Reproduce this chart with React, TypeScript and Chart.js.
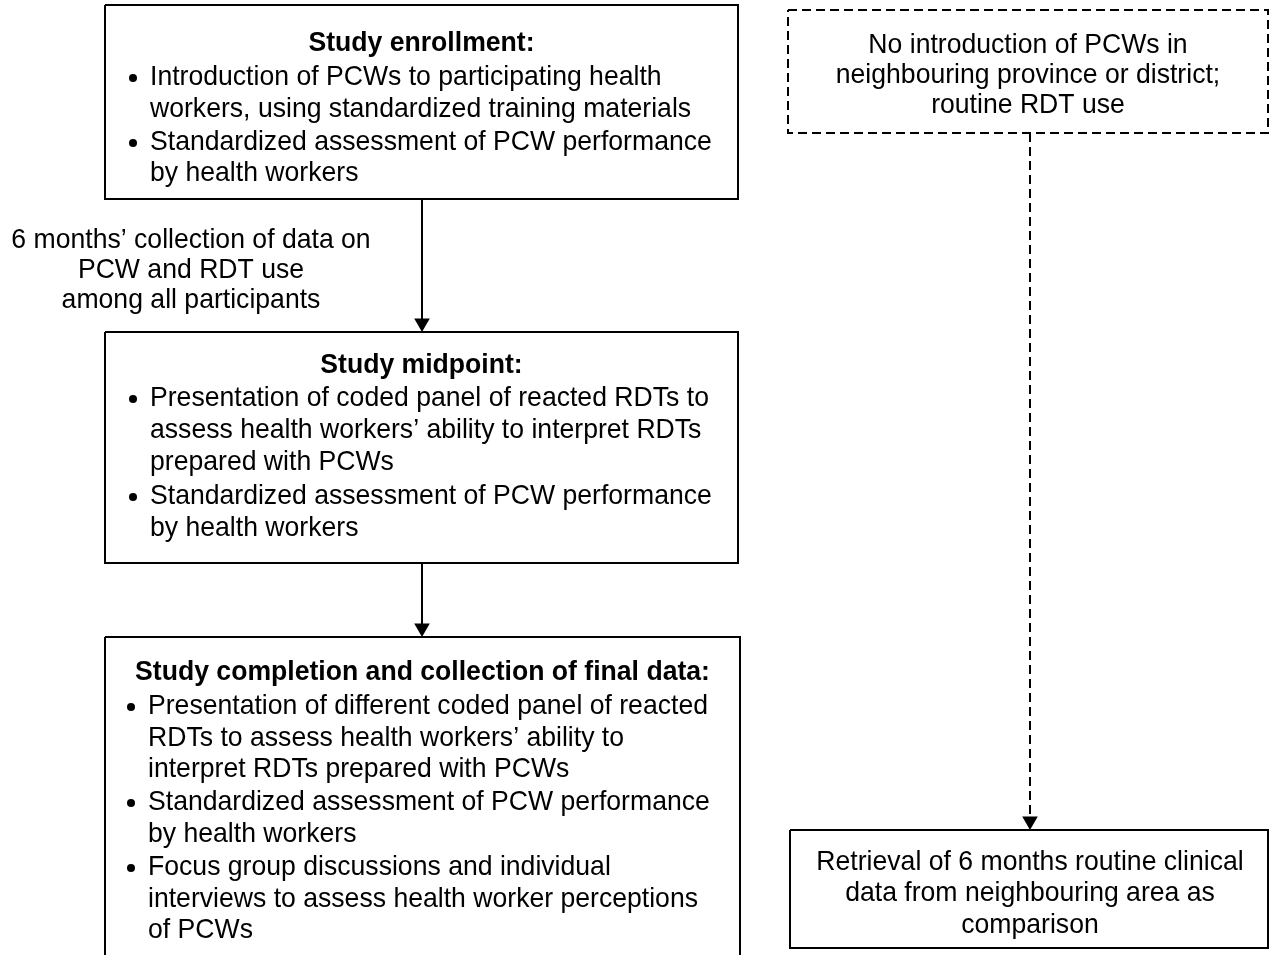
import React, { useEffect, useRef } from "react";
import { Chart, registerables } from "chart.js";

Chart.register(...registerables);

// ---- Text content ----
const enrollmentTitle = "Study enrollment:";
const enrollmentBullets = [
  ["Introduction of PCWs to participating health", "workers, using standardized training materials"],
  ["Standardized assessment of PCW performance", "by health workers"],
];
const midpointTitle = "Study midpoint:";
const midpointBullets = [
  ["Presentation of coded panel of reacted RDTs to", "assess health workers\u2019 ability to interpret RDTs", "prepared with PCWs"],
  ["Standardized assessment of PCW performance", "by health workers"],
];
const completionTitle = "Study completion and collection of final data:";
const completionBullets = [
  ["Presentation of different coded panel of reacted", "RDTs to assess health workers\u2019 ability to", "interpret RDTs prepared with PCWs"],
  ["Standardized assessment of PCW performance", "by health workers"],
  ["Focus group discussions and individual", "interviews to assess health worker perceptions", "of PCWs"],
];
const sideLabel = ["6 months\u2019 collection of data on", "PCW and RDT use", "among all participants"];
const controlText = ["No introduction of PCWs in", "neighbouring province or district;", "routine RDT use"];
const retrievalText = ["Retrieval of 6 months routine clinical", "data from neighbouring area as", "comparison"];

// ---- Layout (diagram coordinates, 1 unit = 1 px) ----
const boxEnroll = { x0: 105, y0: 5, x1: 738, y1: 199 };
const boxMid = { x0: 105, y0: 332, x1: 738, y1: 563 };
const boxComp = { x0: 105, y0: 637, x1: 740, y1: 975 };
const boxControl = { x0: 788, y0: 10, x1: 1268, y1: 133 };
const boxRetrieval = { x0: 790, y0: 830, x1: 1268, y1: 948 };

const enrollLinesY = { title: 43, lines: [77, 109, 142, 173] };
const midLinesY = { title: 365, lines: [398, 430, 462, 496, 528] };
const compLinesY = { title: 672, lines: [706, 738, 769, 802, 834, 867, 899, 930] };
const sideLabelY = [240, 270, 300];
const controlY = [45, 75, 105];
const retrievalY = [862, 893, 925];

const FONT_SIZE = 28;
const SCALE_X = 0.95;
const FONT_FAMILY = "'Liberation Sans', Arial, sans-serif";

function rect(b: { x0: number; y0: number; x1: number; y1: number }) {
  return [
    { x: b.x0, y: b.y0 },
    { x: b.x1, y: b.y0 },
    { x: b.x1, y: b.y1 },
    { x: b.x0, y: b.y1 },
    { x: b.x0, y: b.y0 },
  ];
}

function lineDs(data: { x: number; y: number }[], dash: number[] = []) {
  return {
    type: "scatter" as const,
    data,
    showLine: true,
    borderColor: "#000",
    borderWidth: 2,
    borderDash: dash,
    pointRadius: 0,
    fill: false,
    tension: 0,
    clip: false,
  };
}

const textPlugin = {
  id: "flowText",
  afterDatasetsDraw(chart: any) {
    const ctx = chart.ctx as CanvasRenderingContext2D;
    const xs = chart.scales.x;
    const ys = chart.scales.y;
    const draw = (t: string, x: number, y: number, align: CanvasTextAlign, bold = false) => {
      ctx.save();
      ctx.font = `${bold ? "bold " : ""}${FONT_SIZE}px ${FONT_FAMILY}`;
      ctx.fillStyle = "#000";
      ctx.textBaseline = "middle";
      ctx.textAlign = align;
      ctx.translate(xs.getPixelForValue(x), ys.getPixelForValue(y));
      ctx.scale(SCALE_X, 1);
      ctx.fillText(t, 0, 0);
      ctx.restore();
    };
    const bulletBox = (
      box: { x0: number; x1: number },
      title: string,
      bullets: string[][],
      ys_: { title: number; lines: number[] },
      textX: number
    ) => {
      draw(title, (box.x0 + box.x1) / 2, ys_.title, "center", true);
      let i = 0;
      bullets.forEach((b) => {
        b.forEach((line, j) => {
          if (j === 0) {
            ctx.save();
            ctx.fillStyle = "#000";
            ctx.beginPath();
            ctx.arc(xs.getPixelForValue(textX - 17), ys.getPixelForValue(ys_.lines[i] + 1), 4, 0, Math.PI * 2);
            ctx.fill();
            ctx.restore();
          }
          draw(line, textX, ys_.lines[i], "left");
          i++;
        });
      });
    };
    bulletBox(boxEnroll, enrollmentTitle, enrollmentBullets, enrollLinesY, 150);
    bulletBox(boxMid, midpointTitle, midpointBullets, midLinesY, 150);
    bulletBox(boxComp, completionTitle, completionBullets, compLinesY, 148);
    sideLabel.forEach((t, i) => draw(t, 191, sideLabelY[i], "center"));
    controlText.forEach((t, i) => draw(t, 1028, controlY[i], "center"));
    retrievalText.forEach((t, i) => draw(t, 1030, retrievalY[i], "center"));
  },
};

export default function App() {
  const ref = useRef<HTMLCanvasElement | null>(null);
  useEffect(() => {
    if (!ref.current) return;
    const ARROW_R = 9;
    const chart = new Chart(ref.current, {
      type: "scatter",
      data: {
        datasets: [
          lineDs(rect(boxEnroll)),
          lineDs(rect(boxMid)),
          lineDs(rect(boxComp)),
          lineDs(rect(boxControl), [9, 5]),
          lineDs(rect(boxRetrieval)),
          lineDs([{ x: 422, y: boxEnroll.y1 }, { x: 422, y: boxMid.y0 - 10 }]),
          lineDs([{ x: 422, y: boxMid.y1 }, { x: 422, y: boxComp.y0 - 10 }]),
          lineDs([{ x: 1030, y: boxControl.y1 }, { x: 1030, y: boxRetrieval.y0 - 10 }], [9, 5]),
          {
            type: "scatter" as const,
            data: [
              { x: 422, y: boxMid.y0 - ARROW_R },
              { x: 422, y: boxComp.y0 - ARROW_R },
              { x: 1030, y: boxRetrieval.y0 - ARROW_R },
            ],
            pointStyle: "triangle",
            rotation: 180,
            pointRadius: ARROW_R,
            backgroundColor: "#000",
            borderColor: "#000",
            borderWidth: 0,
            clip: false,
          } as any,
        ],
      },
      options: {
        animation: false,
        responsive: false,
        devicePixelRatio: 1,
        layout: { padding: 0, autoPadding: false } as any,
        plugins: { legend: { display: false }, tooltip: { enabled: false } },
        events: [],
        scales: {
          x: { type: "linear", min: 0, max: 1271, display: false },
          y: { type: "linear", min: 0, max: 955, reverse: true, display: false },
        },
      },
      plugins: [textPlugin],
    });
    return () => chart.destroy();
  }, []);
  return (
    <div style={{ position: "fixed", left: 0, top: 0, width: 1271, height: 955, background: "#fff" }}>
      <canvas ref={ref} width={1271} height={955} style={{ display: "block" }} />
    </div>
  );
}
